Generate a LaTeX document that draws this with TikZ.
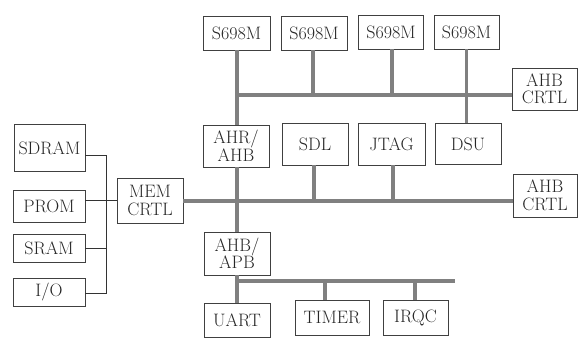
\documentclass[tikz,border=0pt]{standalone}
\begin{document}
\begin{tikzpicture}[x=1pt,y=-1pt,
  blk/.style={draw=black!75,line width=0.8pt,inner sep=0pt,align=center,
    text=black!85,font=\fontsize{18}{17.5}\selectfont},
  bus/.style={draw=black!50,line width=3.8pt},
  thin/.style={draw=black!80,line width=1pt}]
\useasboundingbox (0,0) rectangle (578,338);
% top processors
\node[blk,minimum width=67pt,minimum height=34pt] (s1) at (236.5,33) {S698M};
\node[blk,minimum width=66pt,minimum height=34pt] (s2) at (314,33) {S698M};
\node[blk,minimum width=65pt,minimum height=34pt] (s3) at (391,32) {S698M};
\node[blk,minimum width=65pt,minimum height=34pt] (s4) at (466.5,32) {S698M};
\node[blk,minimum width=65pt,minimum height=42pt] (ahb1) at (544.5,89) {AHB\\CRTL};
% middle row
\node[blk,minimum width=66pt,minimum height=42pt] (ahr) at (236,146) {AHR/\\AHB};
\node[blk,minimum width=66pt,minimum height=42pt] (sdl) at (315,144) {SDL};
\node[blk,minimum width=67pt,minimum height=42pt] (jtag) at (391.5,144) {JTAG};
\node[blk,minimum width=66pt,minimum height=41pt] (dsu) at (468,144) {DSU};
\node[blk,minimum width=64pt,minimum height=43pt] (ahb2) at (545,195.5) {AHB\\CRTL};
% memory side
\node[blk,minimum width=66pt,minimum height=45pt] (mem) at (150,200.5) {MEM\\CRTL};
\node[blk,minimum width=71pt,minimum height=47pt] (sdram) at (49.5,148) {SDRAM};
\node[blk,minimum width=72pt,minimum height=32pt] (prom) at (49,206) {PROM};
\node[blk,minimum width=72pt,minimum height=28pt] (sram) at (49,248) {SRAM};
\node[blk,minimum width=72pt,minimum height=28pt] (io) at (49,292) {I/O};
% bottom
\node[blk,minimum width=66pt,minimum height=43pt] (apb) at (237,253.5) {AHB/\\APB};
\node[blk,minimum width=66pt,minimum height=34pt] (uart) at (237,320) {UART};
\node[blk,minimum width=74pt,minimum height=35pt] (timer) at (332,317.5) {TIMER};
\node[blk,minimum width=65pt,minimum height=35pt] (irqc) at (415.5,317.5) {IRQC};
% bus coordinates
\coordinate (j1) at (237,95);
\coordinate (j3) at (237,281);
\coordinate (j3end) at (455,281);
\coordinate (v) at (106,155);
\coordinate (vb) at (106,293);
% buses
\draw[bus] (j1) -- (j1 -| ahb1.west);
\draw[bus] (s1.south -| j1) -- (ahr.north -| j1);
\draw[bus] (ahr.south -| j1) -- (apb.north -| j1);
\draw[bus] (apb.south -| j1) -- (uart.north -| j1);
\draw[bus] ([xshift=-1pt]s2.south) -- ([xshift=-1pt]s2.south |- j1);
\draw[bus] ([xshift=1pt]s3.south) -- ([xshift=1pt]s3.south |- j1);
\draw[bus] (s4.south) -- (s4.south |- dsu.north);
\draw[bus] ([yshift=-0.5pt]mem.east) -- ([yshift=-0.5pt]mem.east -| ahb2.west);
\draw[bus] ([xshift=-1pt]sdl.south) -- ([xshift=-1pt,yshift=-0.5pt]sdl.south |- mem.east);
\draw[bus] ([xshift=1.5pt]jtag.south) -- ([xshift=1.5pt,yshift=-0.5pt]jtag.south |- mem.east);
\draw[bus] (j3) -- (j3end);
\draw[bus] (timer.north |- j3) ++(-7pt,0) coordinate (tj) -- (tj |- timer.north);
\draw[bus] (irqc.north |- j3) ++(-0.5pt,0) coordinate (ij) -- (ij |- irqc.north);
% memory connections
\draw[thin] (sdram.east |- v) -- (v) -- (vb) -- (io.east |- vb);
\draw[thin] (prom.east |- mem.west) -- (mem.west);
\draw[thin] (sram.east) -- (sram.east -| v);
\end{tikzpicture}
\end{document}
